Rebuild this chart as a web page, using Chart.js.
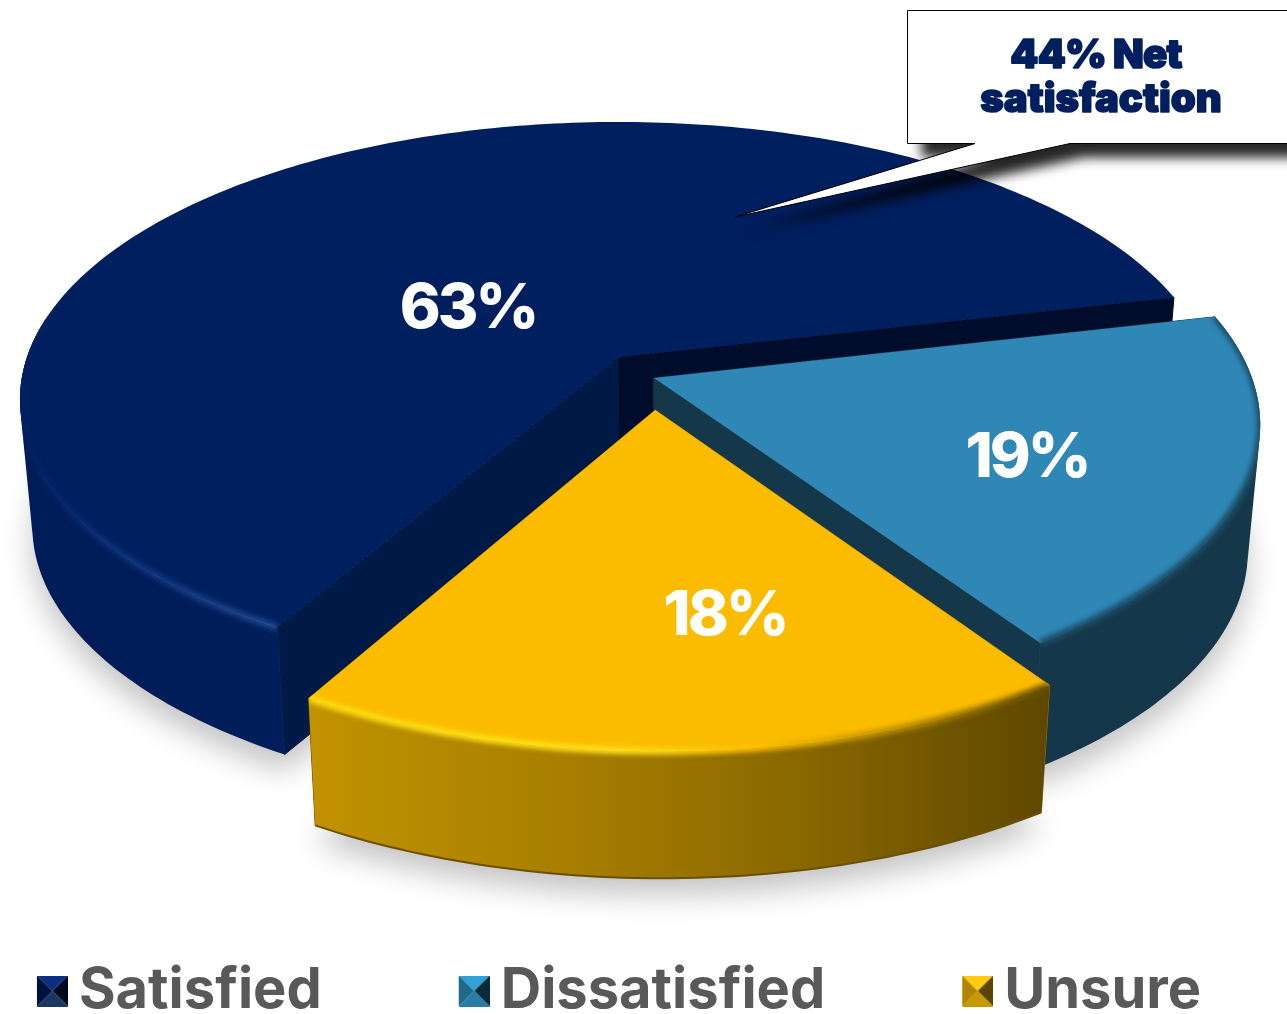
<!DOCTYPE html>
<html>
<head>
<meta charset="utf-8">
<title>Net satisfaction</title>
<script src="https://cdn.jsdelivr.net/npm/chart.js@4/dist/chart.umd.min.js"></script>
<style>
    html, body { margin: 0; padding: 0; background: #fff; }
    canvas { display: block; }
</style>
</head>
<body>
<canvas id="pieChart" width="1287" height="1014"></canvas>
<script>
/* ==========================================================================
   Data
   ========================================================================== */

const categories = ['Satisfied', 'Dissatisfied', 'Unsure'];
const seriesValues = [63, 19.3, 17.7];
const calloutLines = ['44% Net', 'satisfaction'];

/* ==========================================================================
   Look of the 3D pie
   ========================================================================== */

// Perspective of the pie plane: a unit circle seen from above the front edge
const VIEW = { x: 618, y: 357, rx: 591, ry: 271, k: 0.153 };
const DEPTH = 127;
const BASE_SHRINK = 0.98;
const BASE_CENTER_X = 640;

const SLICE_STYLES = [
    {
        top: '#001f5f', wallStart: '#001a47', wallEnd: '#000c2c',
        shift: [0, 0], frontTo: 188,
        rimStops: [[25, '#00205f'], [110, '#0c2f78'], [278, '#21488f']],
        sideStops: [[20, '#001c58'], [280, '#001e5a']]
    },
    {
        top: '#2e87b5', wallStart: '#14384a', wallEnd: '#14384a',
        shift: [0.0602, 0.0766], frontTo: null,
        rimStops: [[1040, '#1c4d66'], [1257, '#1c4d66']],
        sideStops: [[1040, '#14384a'], [1250, '#14384a']]
    },
    {
        top: '#fbbc00', wallStart: '#a07a00', wallEnd: '#604800',
        shift: [0.061, 0.19], frontTo: null,
        rimStops: [[310, '#ffdc10'], [620, '#ffe01a'], [760, '#fbbc00'], [940, '#a67e00'], [1050, '#665000']],
        sideStops: [[310, '#c29200'], [560, '#a87f00'], [800, '#8a6800'], [1050, '#5f4700']],
        baseEdge: '#6b5000'
    }
];

const MARKER_FACES = [
    ['#0a2f80', '#00103f', '#000a20', '#1a3566'],
    ['#2fa3d6', '#1f6a8c', '#0a2a38', '#2a7ca8'],
    ['#ffcc10', '#b08800', '#5a4400', '#c89800']
];

const LABEL_POSITIONS = [[468, 309], [1027, 458], [725, 616]];
const LEGEND_TOP = 813;
const LEGEND_COLOR = '#595959';

const toRad = (deg) => deg * Math.PI / 180;

/**
 * Project a point of the pie plane to the canvas
 * @param {number} u - Plane x, 1 is one radius
 * @param {number} v - Plane y, positive towards the viewer
 * @param {boolean} base - True for the lower face of the pie
 */
function project(u, v, base) {
    const w = 1 - VIEW.k * v;
    const x = VIEW.x + VIEW.rx * u / w;
    const y = VIEW.y + VIEW.ry * v / w;
    if (!base) return [x, y];
    return [BASE_CENTER_X + (x - BASE_CENTER_X) * BASE_SHRINK, y + DEPTH];
}

function rimPoints(shift, from, to, base) {
    const points = [];
    const steps = Math.max(2, Math.ceil(Math.abs(to - from) / toRad(1)));
    for (let i = 0; i <= steps; i++) {
        const a = from + (to - from) * i / steps;
        points.push(project(shift[0] + Math.cos(a), shift[1] + Math.sin(a), base));
    }
    return points;
}

function tracePolygon(ctx, points) {
    ctx.beginPath();
    points.forEach((p, i) => (i ? ctx.lineTo(p[0], p[1]) : ctx.moveTo(p[0], p[1])));
}

function addPolygon(path, points) {
    points.forEach((p, i) => (i ? path.lineTo(p[0], p[1]) : path.moveTo(p[0], p[1])));
    path.closePath();
}

// Sweep of the rim from the top face to the base, as quads of one winding
function addSweep(path, top, bottom) {
    for (let i = 0; i < top.length - 1; i++) {
        const quad = [top[i], top[i + 1], bottom[i + 1], bottom[i]];
        let area = 0;
        quad.forEach((p, j) => {
            const q = quad[(j + 1) % 4];
            area += p[0] * q[1] - q[0] * p[1];
        });
        addPolygon(path, area < 0 ? quad.reverse() : quad);
    }
}

function xGradient(ctx, stops) {
    const x0 = stops[0][0];
    const x1 = stops[stops.length - 1][0];
    const gradient = ctx.createLinearGradient(x0, 0, x1, 0);
    stops.forEach(([x, color]) => gradient.addColorStop((x - x0) / (x1 - x0), color));
    return gradient;
}

/* ==========================================================================
   Chart.js element and controller
   ========================================================================== */

class Arc3D extends Chart.ArcElement {
    static id = 'arc3d';

    outline(base) {
        const style = SLICE_STYLES[this.$context.index];
        const apex = project(style.shift[0], style.shift[1], base);
        return [apex, ...rimPoints(style.shift, this.startAngle, this.endAngle, base)];
    }

    drawShadow(ctx) {
        ctx.save();
        ctx.shadowColor = 'rgba(0, 0, 0, 0.24)';
        ctx.shadowBlur = 30;
        ctx.shadowOffsetY = 16;
        ctx.fillStyle = '#ffffff';
        tracePolygon(ctx, this.outline(true));
        ctx.closePath();
        ctx.fill();
        ctx.restore();
    }

    drawWall(ctx, angle, color) {
        const style = SLICE_STYLES[this.$context.index];
        const u = style.shift[0] + Math.cos(angle);
        const v = style.shift[1] + Math.sin(angle);
        tracePolygon(ctx, [
            project(style.shift[0], style.shift[1], false),
            project(u, v, false),
            project(u, v, true),
            project(style.shift[0], style.shift[1], true)
        ]);
        ctx.closePath();
        ctx.fillStyle = color;
        ctx.strokeStyle = color;
        ctx.lineWidth = 1;
        ctx.fill();
        ctx.stroke();
    }

    draw(ctx) {
        const style = SLICE_STYLES[this.$context.index];
        const frontEnd = style.frontTo === null ? this.endAngle : toRad(style.frontTo);
        const rimTop = rimPoints(style.shift, this.startAngle, frontEnd, false);
        const rimBase = rimPoints(style.shift, this.startAngle, frontEnd, true);

        ctx.save();

        // Cut faces
        this.drawWall(ctx, this.endAngle, style.wallEnd);
        this.drawWall(ctx, this.startAngle, style.wallStart);

        // Outer side
        const sweep = new Path2D();
        addSweep(sweep, rimTop, rimBase);
        ctx.fillStyle = xGradient(ctx, style.sideStops);
        ctx.fill(sweep, 'nonzero');

        if (style.baseEdge) {
            tracePolygon(ctx, rimBase);
            ctx.strokeStyle = style.baseEdge;
            ctx.lineWidth = 2;
            ctx.stroke();
        }

        // Upper face
        tracePolygon(ctx, this.outline(false));
        ctx.closePath();
        ctx.fillStyle = this.options.backgroundColor;
        ctx.fill();

        // Soft bevel on the visible part of the rim
        const bevelArea = new Path2D();
        addSweep(bevelArea, rimTop, rimBase);
        addPolygon(bevelArea, this.outline(false));
        ctx.clip(bevelArea, 'nonzero');
        ctx.filter = 'blur(2.5px)';
        tracePolygon(ctx, rimTop);
        ctx.strokeStyle = xGradient(ctx, style.rimStops);
        ctx.lineWidth = 7;
        ctx.stroke();

        ctx.restore();
    }
}

class Pie3DController extends Chart.PieController {
    static id = 'pie3d';
    static defaults = { ...Chart.PieController.defaults, dataElementType: 'arc3d' };
}

Chart.register(Arc3D, Pie3DController);

/* ==========================================================================
   Plugins
   ========================================================================== */

const groundShadow = {
    id: 'groundShadow',
    beforeDatasetsDraw(chart) {
        chart.getDatasetMeta(0).data.forEach((arc) => arc.drawShadow(chart.ctx));
    }
};

const sliceLabels = {
    id: 'sliceLabels',
    afterDatasetsDraw(chart) {
        const ctx = chart.ctx;
        ctx.save();
        ctx.fillStyle = '#ffffff';
        ctx.font = '800 62px Inter';
        ctx.letterSpacing = '-3px';
        ctx.textAlign = 'center';
        ctx.textBaseline = 'middle';
        seriesValues.forEach((value, i) => {
            ctx.fillText(`${Math.round(value)}%`, LABEL_POSITIONS[i][0], LABEL_POSITIONS[i][1]);
        });
        ctx.restore();
    }
};

const callout = {
    id: 'callout',
    afterDraw(chart) {
        const ctx = chart.ctx;
        const shape = [[907.5, 10.5], [1300, 10.5], [1300, 143.5], [1070, 143.5], [735, 217], [975, 143.5], [907.5, 143.5]];
        ctx.save();
        ctx.shadowColor = 'rgba(0, 0, 0, 0.85)';
        ctx.shadowBlur = 12;
        ctx.shadowOffsetX = 14;
        ctx.shadowOffsetY = 14;
        tracePolygon(ctx, shape);
        ctx.closePath();
        ctx.fillStyle = '#ffffff';
        ctx.fill();
        ctx.shadowColor = 'transparent';
        ctx.strokeStyle = '#000000';
        ctx.lineWidth = 1;
        tracePolygon(ctx, [[1300, 143.5], [1070, 143.5], [735, 217], [975, 143.5], [907.5, 143.5], [907.5, 10.5], [1300, 10.5]]);
        ctx.stroke();
        ctx.fillStyle = '#001f5f';
        ctx.strokeStyle = '#001f5f';
        ctx.lineWidth = 1.6;
        ctx.lineJoin = 'round';
        ctx.font = '900 40px Inter';
        ctx.textAlign = 'center';
        ctx.textBaseline = 'middle';
        [[1096, 56, '-0.8px'], [1101, 100, '0px']].forEach(([x, y, spacing], i) => {
            ctx.letterSpacing = spacing;
            ctx.fillText(calloutLines[i], x, y);
            ctx.strokeText(calloutLines[i], x, y);
        });
        ctx.restore();
    }
};

// The wide legend gaps would push the row off the page, so the box is placed here
const legendPlacement = {
    id: 'legendPlacement',
    beforeDraw(chart) {
        const height = chart.legend.bottom - chart.legend.top;
        chart.legend.top = LEGEND_TOP;
        chart.legend.bottom = LEGEND_TOP + height;
    }
};

/* ==========================================================================
   Legend markers
   ========================================================================== */

function makeMarker(faces) {
    const size = 31;
    const pad = 4; // empty strip on the left, moves the marker closer to its text
    const marker = document.createElement('canvas');
    marker.width = size + pad;
    marker.height = size;
    const ctx = marker.getContext('2d');
    ctx.translate(pad, 0);
    const mid = size / 2;
    const corners = [[0, 0], [size, 0], [size, size], [0, size]];
    // top, right, bottom, left
    [faces[0], faces[2], faces[3], faces[1]].forEach((color, i) => {
        const a = corners[i];
        const b = corners[(i + 1) % 4];
        ctx.beginPath();
        ctx.moveTo(a[0], a[1]);
        ctx.lineTo(b[0], b[1]);
        ctx.lineTo(mid, mid);
        ctx.closePath();
        ctx.fillStyle = color;
        ctx.fill();
    });
    return marker;
}

const legendMarkers = MARKER_FACES.map(makeMarker);

/* ==========================================================================
   Chart
   ========================================================================== */

new Chart(document.getElementById('pieChart'), {
    type: 'pie3d',
    data: {
        labels: categories,
        datasets: [{
            data: seriesValues,
            backgroundColor: SLICE_STYLES.map((s) => s.top),
            rotation: 210,
            borderWidth: 0
        }]
    },
    options: {
        responsive: false,
        animation: false,
        // The legend box runs past the canvas so its wide gaps stay on one row
        layout: { padding: { left: -149, right: -113 } },
        plugins: {
            tooltip: { enabled: false },
            legend: {
                position: 'bottom',
                labels: {
                    usePointStyle: true,
                    boxWidth: 1,
                    padding: 150,
                    color: LEGEND_COLOR,
                    font: { family: 'Inter', size: 56, weight: '700' },
                    generateLabels: (chart) => chart.data.labels.map((text, i) => ({
                        text,
                        index: i,
                        fontColor: LEGEND_COLOR,
                        pointStyle: legendMarkers[i],
                        fillStyle: SLICE_STYLES[i].top,
                        strokeStyle: SLICE_STYLES[i].top,
                        lineWidth: 0,
                        hidden: false
                    }))
                }
            }
        }
    },
    plugins: [legendPlacement, groundShadow, sliceLabels, callout]
});
</script>
</body>
</html>
